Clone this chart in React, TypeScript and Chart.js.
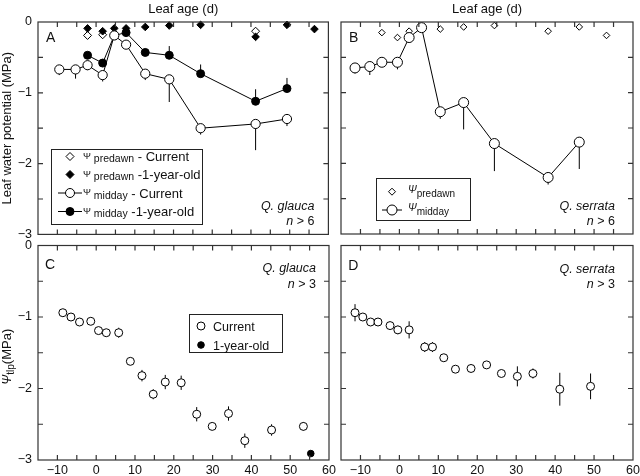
import React, { useEffect, useRef } from 'react';
import { Chart, registerables } from 'chart.js';

Chart.register(...registerables);

const FONT = '"Liberation Sans", Arial, Helvetica, sans-serif';

// ---------- axes ----------
const xMin = -15;
const xMax = 60;
const xStep = 5;
const yMin = -3;
const yMax = 0;
const yStep = 0.5;

// ---------- Panel A: Q. glauca, leaf water potential ----------
const aMidCurX = [-9.5, -5.3, -2.2, 1.7, 4.7, 7.75, 12.7, 18.9, 27, 41.2, 49.3];
const aMidCurY = [-0.67, -0.67, -0.61, -0.75, -0.19, -0.32, -0.73, -0.81, -1.5, -1.44, -1.37];
const aMidCurErrDown = [0.08, 0.13, 0.07, 0.09, 0, 0, 0.09, 0.32, 0.09, 0.37, 0.1];
const aMidOldX = [-2.2, 1.7, 4.7, 7.75, 12.7, 18.9, 27, 41.2, 49.3];
const aMidOldY = [-0.47, -0.58, -0.19, -0.15, -0.43, -0.47, -0.73, -1.12, -0.94];
const aMidOldErrUp = [0, 0, 0, 0, 0, 0.13, 0.13, 0.17, 0.15];
const aPreCurX = [-2.2, 1.7, 41.2];
const aPreCurY = [-0.19, -0.18, -0.13];
const aPreOldX = [-2.2, 1.7, 4.7, 7.75, 12.7, 18.9, 27, 41.2, 49.3, 56.4];
const aPreOldY = [-0.09, -0.13, -0.09, -0.09, -0.07, -0.05, -0.04, -0.21, -0.04, -0.1];

// ---------- Panel B: Q. serrata, leaf water potential ----------
const bMidX = [-11.4, -7.6, -4.5, -0.5, 2.5, 5.7, 10.5, 16.5, 24.4, 38.2, 46.2];
const bMidY = [-0.65, -0.63, -0.57, -0.57, -0.22, -0.08, -1.27, -1.14, -1.72, -2.2, -1.7];
const bMidErrDown = [0.08, 0.12, 0, 0.1, 0, 0, 0.1, 0.38, 0.39, 0.1, 0.38];
const bPreX = [-4.5, -0.5, 2.5, 10.5, 16.5, 24.4, 38.2, 46.2, 53.2];
const bPreY = [-0.15, -0.22, -0.13, -0.1, -0.07, -0.05, -0.13, -0.07, -0.19];

// ---------- Panel C: Q. glauca, turgor loss point ----------
const cCurX = [-8.6, -6.5, -4.3, -1.4, 0.6, 2.6, 5.8, 8.8, 11.8, 14.7, 17.8, 21.9, 25.9, 29.9, 34.1, 38.3, 45.2, 53.4];
const cCurY = [-0.94, -1.0, -1.07, -1.06, -1.19, -1.22, -1.22, -1.62, -1.82, -2.08, -1.91, -1.92, -2.36, -2.53, -2.35, -2.73, -2.58, -2.53];
const cCurErr = [0.05, 0.05, 0.03, 0.04, 0.04, 0.05, 0.07, 0.04, 0.08, 0.07, 0.1, 0.1, 0.1, 0.05, 0.1, 0.1, 0.08, 0.06];
const cOldX = [55.3];
const cOldY = [-2.91];

// ---------- Panel D: Q. serrata, turgor loss point ----------
const dCurX = [-11.4, -9.4, -7.4, -5.5, -2.4, -0.4, 2.5, 6.5, 8.5, 11.4, 14.4, 18.4, 22.4, 26.2, 30.3, 34.3, 41.2, 49.1];
const dCurY = [-0.94, -1.0, -1.07, -1.07, -1.12, -1.18, -1.18, -1.42, -1.42, -1.57, -1.73, -1.72, -1.67, -1.79, -1.83, -1.79, -2.01, -1.97];
const dCurErr = [0.12, 0.03, 0.03, 0.03, 0.03, 0.06, 0.12, 0.07, 0.07, 0.03, 0.03, 0.03, 0.03, 0.03, 0.14, 0.07, 0.23, 0.18];

// ---------- helpers ----------
type Pt = { x: number; y: number };
const pts = (xs: number[], ys: number[]): Pt[] => xs.map((x, i) => ({ x, y: ys[i] }));
const fmt = (v: number) => (v < 0 ? '\u2212' + Math.abs(v) : String(v));

type Part = { t: string; it?: boolean; sz: number; dy?: number };

function drawRich(ctx: CanvasRenderingContext2D, parts: Part[], x: number, y: number, align: 'left' | 'right' | 'center') {
  const fontOf = (p: Part) => `${p.it ? 'italic ' : ''}${p.sz}px ${FONT}`;
  let total = 0;
  for (const p of parts) {
    ctx.font = fontOf(p);
    total += ctx.measureText(p.t).width;
  }
  let cx = align === 'left' ? x : align === 'right' ? x - total : x - total / 2;
  ctx.textAlign = 'left';
  ctx.textBaseline = 'alphabetic';
  for (const p of parts) {
    ctx.font = fontOf(p);
    ctx.fillText(p.t, cx, y + (p.dy || 0));
    cx += ctx.measureText(p.t).width;
  }
}

type Sym = { shape: 'circle' | 'diamond'; r: number; fill: string; line?: number };

function drawSym(ctx: CanvasRenderingContext2D, s: Sym, x: number, y: number) {
  ctx.lineWidth = 1;
  ctx.strokeStyle = '#000';
  if (s.line) {
    ctx.beginPath();
    ctx.moveTo(x - s.line, y);
    ctx.lineTo(x + s.line, y);
    ctx.stroke();
  }
  ctx.beginPath();
  if (s.shape === 'circle') {
    ctx.arc(x, y, s.r, 0, Math.PI * 2);
  } else {
    ctx.moveTo(x, y - s.r);
    ctx.lineTo(x + s.r, y);
    ctx.lineTo(x, y + s.r);
    ctx.lineTo(x - s.r, y);
    ctx.closePath();
  }
  ctx.fillStyle = s.fill;
  ctx.fill();
  ctx.stroke();
}

// error bars drawn under the markers, through the scales
const errorBarPlugin = {
  id: 'errorBars',
  beforeDatasetsDraw(chart: any) {
    const { ctx, scales } = chart;
    ctx.save();
    ctx.strokeStyle = '#000';
    ctx.lineWidth = 1;
    chart.data.datasets.forEach((ds: any) => {
      const up: number[] | undefined = ds.errUp;
      const dn: number[] | undefined = ds.errDown;
      if (!up && !dn) return;
      ds.data.forEach((p: Pt, j: number) => {
        const u = up ? up[j] : 0;
        const d = dn ? dn[j] : 0;
        if (!u && !d) return;
        const x = scales.x.getPixelForValue(p.x);
        const y1 = scales.y.getPixelForValue(p.y + u);
        const y2 = scales.y.getPixelForValue(p.y - d);
        ctx.beginPath();
        ctx.moveTo(x, y1);
        ctx.lineTo(x, y2);
        ctx.stroke();
      });
    });
    ctx.restore();
  },
};

// box frame with inward ticks on all four sides
const framePlugin = {
  id: 'frame',
  afterDatasetsDraw(chart: any) {
    const { ctx, chartArea: a, scales } = chart;
    ctx.save();
    ctx.strokeStyle = '#333';
    ctx.lineWidth = 1.2;
    ctx.strokeRect(a.left, a.top, a.right - a.left, a.bottom - a.top);
    const L = 5;
    ctx.beginPath();
    scales.x.ticks.forEach((t: any) => {
      const px = scales.x.getPixelForValue(t.value);
      if (px <= a.left + 1 || px >= a.right - 1) return;
      ctx.moveTo(px, a.bottom);
      ctx.lineTo(px, a.bottom - L);
      ctx.moveTo(px, a.top);
      ctx.lineTo(px, a.top + L);
    });
    scales.y.ticks.forEach((t: any) => {
      const py = scales.y.getPixelForValue(t.value);
      if (py <= a.top + 1 || py >= a.bottom - 1) return;
      ctx.moveTo(a.left, py);
      ctx.lineTo(a.left + L, py);
      ctx.moveTo(a.right, py);
      ctx.lineTo(a.right - L, py);
    });
    ctx.stroke();
    ctx.restore();
  },
};

type LegendSpec = {
  dx: number; dy: number; w: number; h: number;
  symX: number; textX: number;
  rows: { dy: number; sym: Sym; parts: Part[]; base: number }[];
};

type Decor = {
  letter: string; letterDx: number; letterDy: number;
  notes: { parts: Part[]; dxRight: number; dy: number; fromBottom?: boolean }[];
  legend?: LegendSpec;
  yTitle?: { parts: Part[]; cx: number };
};

const decorPlugin = {
  id: 'decor',
  afterDraw(chart: any, _args: any, opts: Decor) {
    const { ctx, chartArea: a } = chart;
    ctx.save();
    ctx.fillStyle = '#111';
    ctx.textAlign = 'left';
    ctx.textBaseline = 'alphabetic';
    ctx.font = `14px ${FONT}`;
    ctx.fillText(opts.letter, a.left + opts.letterDx, a.top + opts.letterDy);
    for (const n of opts.notes) {
      const y = n.fromBottom ? a.bottom - n.dy : a.top + n.dy;
      drawRich(ctx, n.parts, a.right - n.dxRight, y, 'right');
    }
    const lg = opts.legend;
    if (lg) {
      const bx = a.left + lg.dx;
      const by = a.top + lg.dy;
      ctx.fillStyle = '#fff';
      ctx.fillRect(bx, by, lg.w, lg.h);
      ctx.strokeStyle = '#222';
      ctx.lineWidth = 1;
      ctx.strokeRect(bx + 0.5, by + 0.5, lg.w, lg.h);
      for (const r of lg.rows) {
        const cy = by + r.dy;
        drawSym(ctx, r.sym, bx + lg.symX, cy);
        ctx.fillStyle = '#111';
        drawRich(ctx, r.parts, bx + lg.textX, cy + r.base, 'left');
      }
    }
    if (opts.yTitle) {
      ctx.fillStyle = '#111';
      ctx.translate(opts.yTitle.cx, (a.top + a.bottom) / 2 + 4);
      ctx.rotate(-Math.PI / 2);
      drawRich(ctx, opts.yTitle.parts, 0, 0, 'center');
    }
    ctx.restore();
  },
};

function xScale(position: 'top' | 'bottom', showTitle: boolean, showLabels: boolean, height: number) {
  return {
    type: 'linear',
    position,
    min: xMin,
    max: xMax,
    grid: { display: false, drawTicks: false },
    border: { display: false },
    ticks: {
      display: showLabels,
      stepSize: xStep,
      autoSkip: false,
      maxRotation: 0,
      padding: 3,
      color: '#111',
      font: { size: 12.5, family: FONT },
      callback: (v: number) => (v % 10 === 0 ? fmt(v) : ''),
    },
    title: {
      display: showTitle,
      text: 'Leaf age (d)',
      color: '#111',
      font: { size: 13, family: FONT },
      padding: { top: 1.5, bottom: 0 },
    },
    afterFit: (s: any) => {
      s.height = height;
      s.paddingLeft = 0;
      s.paddingRight = 0;
    },
  };
}

function yScale(showLabels: boolean, title: string | null, width: number) {
  return {
    type: 'linear',
    position: 'left',
    min: yMin,
    max: yMax,
    grid: { display: false, drawTicks: false },
    border: { display: false },
    ticks: {
      display: showLabels,
      stepSize: yStep,
      autoSkip: false,
      padding: 6,
      color: '#111',
      font: { size: 12.5, family: FONT },
      callback: (v: number) => (Number.isInteger(v) ? fmt(v) : ''),
    },
    title: {
      display: !!title,
      text: title || '',
      color: '#111',
      font: { size: 13, family: FONT },
      padding: { top: 0, bottom: 0 },
    },
    afterFit: (s: any) => {
      s.width = width;
      s.paddingTop = 0;
      s.paddingBottom = 0;
    },
  };
}

function series(data: Pt[], o: { line?: boolean; shape: 'circle' | 'rectRot'; r: number; fill: string; order: number; errUp?: number[]; errDown?: number[] }) {
  return {
    data,
    showLine: !!o.line,
    borderColor: '#000',
    borderWidth: 1,
    pointStyle: o.shape,
    pointRadius: o.r,
    pointHoverRadius: o.r,
    pointBackgroundColor: o.fill,
    pointBorderColor: '#000',
    pointBorderWidth: 1,
    order: o.order,
    clip: false,
    errUp: o.errUp,
    errDown: o.errDown,
  };
}

function baseOptions(padding: any, decor: Decor, scales: any) {
  return {
    animation: false,
    responsive: false,
    events: [],
    layout: { padding },
    plugins: { legend: { display: false }, tooltip: { enabled: false }, decor },
    scales,
  };
}

const PSI = '\u03A8';

function configA(): any {
  return {
    type: 'scatter',
    data: {
      datasets: [
        series(pts(aMidCurX, aMidCurY), { line: true, shape: 'circle', r: 4.6, fill: '#fff', order: 0, errDown: aMidCurErrDown }),
        series(pts(aMidOldX, aMidOldY), { line: true, shape: 'circle', r: 4, fill: '#000', order: 1, errUp: aMidOldErrUp }),
        series(pts(aPreOldX, aPreOldY), { shape: 'rectRot', r: 3.8, fill: '#000', order: 2 }),
        series(pts(aPreCurX, aPreCurY), { shape: 'rectRot', r: 4, fill: '#fff', order: 3 }),
      ],
    },
    options: baseOptions(
      { left: 0, top: 0, right: 5, bottom: 4 },
      {
        letter: 'A', letterDx: 8, letterDy: 19.5,
        notes: [
          { parts: [{ t: 'Q. glauca', it: true, sz: 12.5 }], dxRight: 14, dy: 24, fromBottom: true },
          { parts: [{ t: 'n', it: true, sz: 12.5 }, { t: ' > 6', sz: 12.5 }], dxRight: 14, dy: 9.5, fromBottom: true },
        ],
        legend: {
          dx: 13, dy: 127, w: 151, h: 75, symX: 19, textX: 32,
          rows: [
            { dy: 7.5, base: 4.5, sym: { shape: 'diamond', r: 4, fill: '#fff' }, parts: [{ t: PSI, sz: 9.5, dy: -2.5 }, { t: ' predawn', sz: 10.5, dy: 1 }, { t: ' - Current', sz: 13 }] },
            { dy: 25.5, base: 4.5, sym: { shape: 'diamond', r: 4, fill: '#000' }, parts: [{ t: PSI, sz: 9.5, dy: -2.5 }, { t: ' predawn', sz: 10.5, dy: 1 }, { t: ' -1-year-old', sz: 13 }] },
            { dy: 44, base: 4.5, sym: { shape: 'circle', r: 4.5, fill: '#fff', line: 12 }, parts: [{ t: PSI, sz: 9.5, dy: -2.5 }, { t: ' midday', sz: 10.5, dy: 1 }, { t: ' - Current', sz: 13 }] },
            { dy: 62.5, base: 4.5, sym: { shape: 'circle', r: 4, fill: '#000', line: 12 }, parts: [{ t: PSI, sz: 9.5, dy: -2.5 }, { t: ' midday', sz: 10.5, dy: 1 }, { t: ' -1-year-old', sz: 13 }] },
          ],
        },
      },
      { x: xScale('top', true, false, 22), y: yScale(true, 'Leaf water potential (MPa)', 38) },
    ),
    plugins: [errorBarPlugin, framePlugin, decorPlugin],
  };
}

function configB(): any {
  return {
    type: 'scatter',
    data: {
      datasets: [
        series(pts(bMidX, bMidY), { line: true, shape: 'circle', r: 5, fill: '#fff', order: 0, errDown: bMidErrDown }),
        series(pts(bPreX, bPreY), { shape: 'rectRot', r: 3.3, fill: '#fff', order: 1 }),
      ],
    },
    options: baseOptions(
      { left: 0, top: 0, right: 7, bottom: 4 },
      {
        letter: 'B', letterDx: 8, letterDy: 19.5,
        notes: [
          { parts: [{ t: 'Q. serrata', it: true, sz: 12.5 }], dxRight: 18, dy: 24, fromBottom: true },
          { parts: [{ t: 'n', it: true, sz: 12.5 }, { t: ' > 6', sz: 12.5 }], dxRight: 18, dy: 9.5, fromBottom: true },
        ],
        legend: {
          dx: 35, dy: 156, w: 94, h: 42, symX: 16, textX: 32,
          rows: [
            { dy: 13.7, base: 1.5, sym: { shape: 'diamond', r: 3.5, fill: '#fff' }, parts: [{ t: PSI, it: true, sz: 10.5 }, { t: 'predawn', sz: 10, dy: 4 }] },
            { dy: 32, base: 1, sym: { shape: 'circle', r: 5, fill: '#fff', line: 10 }, parts: [{ t: PSI, it: true, sz: 10.5 }, { t: 'midday', sz: 10, dy: 4 }] },
          ],
        },
      },
      { x: xScale('top', true, false, 22), y: yScale(false, null, 7) },
    ),
    plugins: [errorBarPlugin, framePlugin, decorPlugin],
  };
}

function configC(): any {
  return {
    type: 'scatter',
    data: {
      datasets: [
        series(pts(cCurX, cCurY), { shape: 'circle', r: 4, fill: '#fff', order: 0, errUp: cCurErr, errDown: cCurErr }),
        series(pts(cOldX, cOldY), { shape: 'circle', r: 3.3, fill: '#000', order: 1 }),
      ],
    },
    options: baseOptions(
      { left: 0, top: 5.5, right: 7, bottom: 0 },
      {
        letter: 'C', letterDx: 7, letterDy: 23,
        notes: [
          { parts: [{ t: 'Q. glauca', it: true, sz: 12.5 }], dxRight: 13, dy: 26 },
          { parts: [{ t: 'n', it: true, sz: 12.5 }, { t: ' > 3', sz: 12.5 }], dxRight: 13, dy: 42 },
        ],
        legend: {
          dx: 151, dy: 68.5, w: 93, h: 38, symX: 12, textX: 24,
          rows: [
            { dy: 12, base: 4.5, sym: { shape: 'circle', r: 4, fill: '#fff' }, parts: [{ t: 'Current', sz: 12.5 }] },
            { dy: 31, base: 4.5, sym: { shape: 'circle', r: 3.3, fill: '#000' }, parts: [{ t: '1-year-old', sz: 12.5 }] },
          ],
        },
        yTitle: { cx: 11, parts: [{ t: PSI, it: true, sz: 12 }, { t: 'tlp', sz: 10, dy: 2.5 }, { t: '(MPa)', sz: 13 }] },
      },
      { x: xScale('bottom', false, true, 16), y: yScale(true, null, 38) },
    ),
    plugins: [errorBarPlugin, framePlugin, decorPlugin],
  };
}

function configD(): any {
  return {
    type: 'scatter',
    data: {
      datasets: [
        series(pts(dCurX, dCurY), { shape: 'circle', r: 4, fill: '#fff', order: 0, errUp: dCurErr, errDown: dCurErr }),
      ],
    },
    options: baseOptions(
      { left: 0, top: 5.5, right: 7, bottom: 0 },
      {
        letter: 'D', letterDx: 7.3, letterDy: 24,
        notes: [
          { parts: [{ t: 'Q. serrata', it: true, sz: 12.5 }], dxRight: 18, dy: 27 },
          { parts: [{ t: 'n', it: true, sz: 12.5 }, { t: ' > 3', sz: 12.5 }], dxRight: 18, dy: 42 },
        ],
      },
      { x: xScale('bottom', false, true, 16), y: yScale(false, null, 7) },
    ),
    plugins: [errorBarPlugin, framePlugin, decorPlugin],
  };
}

function Panel({ left, top, width, height, make }: { left: number; top: number; width: number; height: number; make: () => any }) {
  const ref = useRef<HTMLCanvasElement>(null);
  useEffect(() => {
    if (!ref.current) return;
    const chart = new Chart(ref.current, make());
    return () => chart.destroy();
  }, [make]);
  return (
    <canvas
      ref={ref}
      width={width}
      height={height}
      style={{ position: 'absolute', left, top, width, height, display: 'block' }}
    />
  );
}

export default function App() {
  useEffect(() => {
    document.body.style.margin = '0';
  }, []);
  return (
    <div style={{ position: 'absolute', left: 0, top: 0, width: 640, height: 476, background: '#fff', overflow: 'hidden' }}>
      <Panel left={0} top={0} width={334} height={240} make={configA} />
      <Panel left={334} top={0} width={306} height={240} make={configB} />
      <Panel left={0} top={240} width={336} height={236} make={configC} />
      <Panel left={334} top={240} width={306} height={236} make={configD} />
    </div>
  );
}
